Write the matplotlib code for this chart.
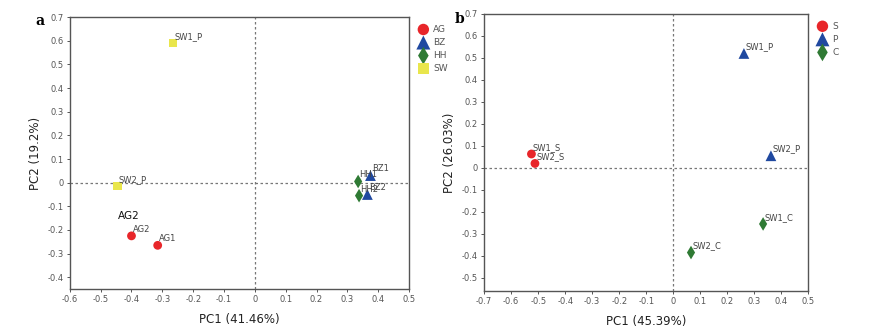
import matplotlib
matplotlib.use("Agg")
import matplotlib.pyplot as plt
import numpy as np

# Panel a data
a_groups = ["AG", "BZ", "HH", "SW"]
a_names = {"AG": ["AG1", "AG2"], "BZ": ["BZ1", "BZ2"], "HH": ["HH1", "HH2"], "SW": ["SW1_P", "SW2_P"]}
a_pc1 = {"AG": [-0.315, -0.400], "BZ": [0.375, 0.365], "HH": [0.335, 0.338], "SW": [-0.265, -0.445]}
a_pc2 = {"AG": [-0.265, -0.225], "BZ": [0.030, -0.050], "HH": [0.005, -0.055], "SW": [0.590, -0.015]}

# Panel b data
b_groups = ["S", "P", "C"]
b_names = {"S": ["SW1_S", "SW2_S"], "P": ["SW1_P", "SW2_P"], "C": ["SW1_C", "SW2_C"]}
b_pc1 = {"S": [-0.525, -0.512], "P": [0.262, 0.362], "C": [0.333, 0.066]}
b_pc2 = {"S": [0.063, 0.020], "P": [0.520, 0.055], "C": [-0.255, -0.385]}

a_xticks = [-0.6, -0.5, -0.4, -0.3, -0.2, -0.1, 0, 0.1, 0.2, 0.3, 0.4, 0.5]
a_yticks = [-0.4, -0.3, -0.2, -0.1, 0, 0.1, 0.2, 0.3, 0.4, 0.5, 0.6, 0.7]
b_xticks = [-0.7, -0.6, -0.5, -0.4, -0.3, -0.2, -0.1, 0, 0.1, 0.2, 0.3, 0.4, 0.5]
b_yticks = [-0.5, -0.4, -0.3, -0.2, -0.1, 0, 0.1, 0.2, 0.3, 0.4, 0.5, 0.6, 0.7]

styles = {
    "AG": ("o", "#e8262a"), "BZ": ("^", "#2049a0"), "HH": ("d", "#2f7a34"), "SW": ("s", "#e9e64c"),
    "S": ("o", "#e8262a"), "P": ("^", "#2049a0"), "C": ("d", "#2f7a34"),
}
sizes = {"o": 40, "^": 60, "d": 48, "s": 35}

fig = plt.figure(figsize=(8.95, 3.3), dpi=100)
axa = fig.add_axes([0.078, 0.124, 0.379, 0.824])
axb = fig.add_axes([0.541, 0.118, 0.362, 0.840])

def fmt(v):
    if abs(v) < 1e-9:
        return "0"
    return ("%.1f" % v)

def style_ax(ax, xt, yt, xl, yl, xlim, ylim):
    ax.set_xlim(*xlim)
    ax.set_ylim(*ylim)
    ax.set_xticks(xt)
    ax.set_yticks(yt)
    ax.set_xticklabels([fmt(v) for v in xt])
    ax.set_yticklabels([fmt(v) for v in yt])
    ax.tick_params(labelsize=6, colors="#555555", length=2.5, width=0.7, pad=2)
    for s in ax.spines.values():
        s.set_color("#555555")
        s.set_linewidth(1.0)
    ax.axhline(0, color="#777777", ls=(0, (2, 2)), lw=0.9, zorder=1)
    ax.axvline(0, color="#777777", ls=(0, (2, 2)), lw=0.9, zorder=1)
    ax.set_xlabel(xl, fontsize=8.5, color="#222222", labelpad=6)
    ax.set_ylabel(yl, fontsize=8.5, color="#222222", labelpad=4)

def draw(ax, groups, names, pc1, pc2):
    handles = []
    for g in groups:
        m, c = styles[g]
        h = ax.scatter(pc1[g], pc2[g], marker=m, s=sizes[m], c=c, edgecolors="none", zorder=3, label=g)
        handles.append(h)
        for n, x, y in zip(names[g], pc1[g], pc2[g]):
            ax.annotate(n, (x, y), xytext=(1, 3), textcoords="offset points", fontsize=6, color="#444444", zorder=4)
    return handles

draw(axa, a_groups, a_names, a_pc1, a_pc2)
style_ax(axa, a_xticks, a_yticks, "PC1 (41.46%)", "PC2 (19.2%)", (-0.6, 0.5), (-0.45, 0.7))
axa.text(-0.445, -0.155, "AG2", fontsize=7.5, color="#111111")
axa.legend(loc="upper left", bbox_to_anchor=(1.005, 0.985), frameon=False, fontsize=6.5,
           handletextpad=0.1, labelspacing=0.45, borderaxespad=0, labelcolor="#555555", markerscale=1.3)

draw(axb, b_groups, b_names, b_pc1, b_pc2)
style_ax(axb, b_xticks, b_yticks, "PC1 (45.39%)", "PC2 (26.03%)", (-0.7, 0.5), (-0.56, 0.7))
axb.legend(loc="upper left", bbox_to_anchor=(1.005, 0.985), frameon=False, fontsize=6.5,
           handletextpad=0.1, labelspacing=0.45, borderaxespad=0, labelcolor="#555555", markerscale=1.3)

fig.text(0.040, 0.925, "a", fontsize=10, family="DejaVu Serif", weight="bold")
fig.text(0.508, 0.93, "b", fontsize=10, family="DejaVu Serif", weight="bold")

fig.savefig("out.png", dpi=100)
